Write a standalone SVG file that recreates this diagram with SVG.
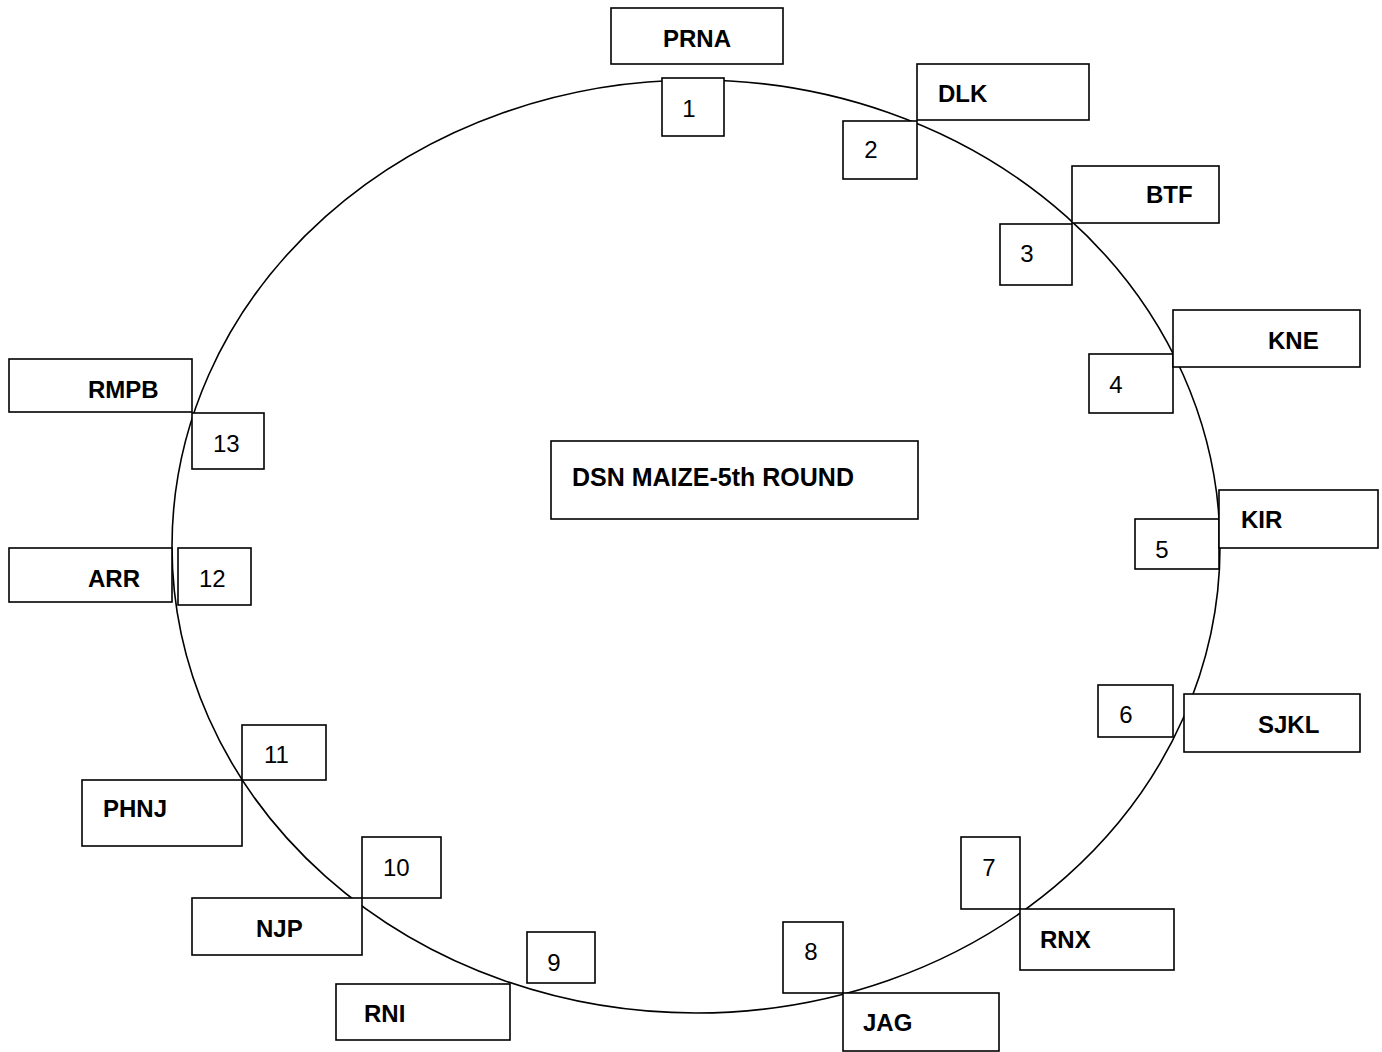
<svg xmlns="http://www.w3.org/2000/svg" width="1382" height="1052" viewBox="0 0 1382 1052">
<style>
.b{fill:#fff;stroke:#000;stroke-width:1.6}
.l{font-family:"Liberation Sans",Arial,sans-serif;font-weight:bold;font-size:24px;fill:#000}
.n{font-family:"Liberation Sans",Arial,sans-serif;font-size:24px;fill:#000}
.c{text-anchor:middle}
</style>
<rect width="1382" height="1052" fill="#fff"/>
<g id="connectors">
<ellipse cx="696" cy="546.5" rx="524" ry="466.5" fill="none" stroke="#000" stroke-width="1.6"/>
</g>
<g id="center"><rect class="b" x="551" y="441" width="367" height="78"/><text class="l" x="572" y="486" style="font-size:25px">DSN MAIZE-5th ROUND</text></g>
<g id="node1"><rect class="b" x="611" y="8" width="172" height="56"/><text class="l" x="663" y="47">PRNA</text><rect class="b" x="662" y="78" width="62" height="58"/><text class="n c" x="689" y="117">1</text></g>
<g id="node2"><rect class="b" x="917" y="64" width="172" height="56"/><text class="l" x="938" y="102">DLK</text><rect class="b" x="843" y="121" width="74" height="58"/><text class="n c" x="871" y="158">2</text></g>
<g id="node3"><rect class="b" x="1072" y="166" width="147" height="57"/><text class="l" x="1146" y="203">BTF</text><rect class="b" x="1000" y="224" width="72" height="61"/><text class="n c" x="1027" y="262">3</text></g>
<g id="node4"><rect class="b" x="1089" y="354" width="84" height="59"/><text class="n c" x="1116" y="393">4</text><rect class="b" x="1173" y="310" width="187" height="57"/><text class="l" x="1268" y="349">KNE</text></g>
<g id="node5"><rect class="b" x="1135" y="519" width="84" height="50"/><text class="n c" x="1162" y="558">5</text><rect class="b" x="1219" y="490" width="159" height="58"/><text class="l" x="1241" y="528">KIR</text></g>
<g id="node6"><rect class="b" x="1098" y="685" width="75" height="52"/><text class="n c" x="1126" y="723">6</text><rect class="b" x="1184" y="694" width="176" height="58"/><text class="l" x="1258" y="733">SJKL</text></g>
<g id="node7"><rect class="b" x="961" y="837" width="59" height="72"/><text class="n c" x="989" y="876">7</text><rect class="b" x="1020" y="909" width="154" height="61"/><text class="l" x="1040" y="948">RNX</text></g>
<g id="node8"><rect class="b" x="783" y="922" width="60" height="71"/><text class="n c" x="811" y="960">8</text><rect class="b" x="843" y="993" width="156" height="58"/><text class="l" x="863" y="1031">JAG</text></g>
<g id="node9"><rect class="b" x="527" y="932" width="68" height="51"/><text class="n c" x="554" y="971">9</text><rect class="b" x="336" y="984" width="174" height="56"/><text class="l" x="364" y="1022">RNI</text></g>
<g id="node10"><rect class="b" x="362" y="837" width="79" height="61"/><text class="n" x="383" y="876">10</text><rect class="b" x="192" y="898" width="170" height="57"/><text class="l" x="256" y="937">NJP</text></g>
<g id="node11"><rect class="b" x="242" y="725" width="84" height="55"/><text class="n" x="264" y="763">11</text><rect class="b" x="82" y="780" width="160" height="66"/><text class="l" x="103" y="817">PHNJ</text></g>
<g id="node12"><rect class="b" x="9" y="548" width="163" height="54"/><text class="l" x="88" y="587">ARR</text><rect class="b" x="178" y="548" width="73" height="57"/><text class="n" x="199" y="587">12</text></g>
<g id="node13"><rect class="b" x="9" y="359" width="183" height="53"/><text class="l" x="88" y="398">RMPB</text><rect class="b" x="192" y="413" width="72" height="56"/><text class="n" x="213" y="452">13</text></g>
</svg>
